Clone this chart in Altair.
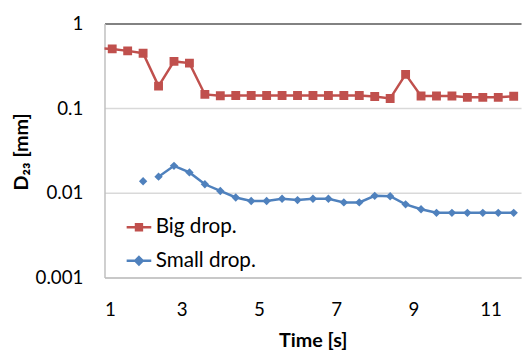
import altair as alt
import pandas as pd

# ---- data ----
big_time = [0.8, 1.2, 1.6, 2.0, 2.4, 2.8, 3.2, 3.6, 4.0, 4.4, 4.8, 5.2, 5.6, 6.0,
            6.4, 6.8, 7.2, 7.6, 8.0, 8.4, 8.8, 9.2, 9.6, 10.0, 10.4, 10.8, 11.2, 11.6]
big_d23 = [0.51, 0.50, 0.474, 0.445, 0.182, 0.356, 0.340, 0.145, 0.140, 0.141, 0.141,
           0.141, 0.141, 0.141, 0.141, 0.141, 0.141, 0.141, 0.137, 0.130, 0.25, 0.139,
           0.139, 0.139, 0.134, 0.134, 0.134, 0.138]

small_time = [2.0, 2.4, 2.8, 3.2, 3.6, 4.0, 4.4, 4.8, 5.2, 5.6, 6.0, 6.4, 6.8,
              7.2, 7.6, 8.0, 8.4, 8.8, 9.2, 9.6, 10.0, 10.4, 10.8, 11.2, 11.6]
small_d23 = [0.0137, 0.0155, 0.0208, 0.0174, 0.0126, 0.0105, 0.0088, 0.0080, 0.0080,
             0.0085, 0.0082, 0.0085, 0.0085, 0.0077, 0.0077, 0.0092, 0.0091, 0.0073,
             0.0064, 0.0058, 0.0058, 0.0058, 0.0058, 0.0058, 0.0058]
# first small-drop point stands alone (not joined to the rest)
small_seg = [0] + [1] * (len(small_time) - 1)

series_names = ["Big drop.", "Small drop."]
series_colors = ["#C0504D", "#4F81BD"]
x_ticks = [1, 3, 5, 7, 9, 11]
y_ticks = [0.001, 0.01, 0.1, 1]

df = pd.concat([
    pd.DataFrame({"t": big_time, "d": big_d23, "s": series_names[0], "seg": 1}),
    pd.DataFrame({"t": small_time, "d": small_d23, "s": series_names[1], "seg": small_seg}),
])

FONT = "Lato"
SQ = "M-1,0H1M-0.24,-0.24H0.24V0.24H-0.24Z"
DI = "M-1,0H1M0,-0.3L0.3,0L0,0.3L-0.3,0Z"

x = alt.X("t:Q", scale=alt.Scale(domain=[1, 11.79], nice=False, zero=False),
          axis=alt.Axis(values=x_ticks, title="Time [s]", grid=False, ticks=False,
                        tickSize=0, labelPadding=24, titlePadding=11,
                        domainColor="#BFBFBF", domainWidth=1.5,
                        labelFont=FONT, labelFontSize=19, labelColor="black",
                        titleFont=FONT, titleFontSize=20, titleFontWeight="bold",
                        titleColor="black"))
y = alt.Y("d:Q", scale=alt.Scale(type="log", domain=[0.001, 1], nice=False),
          axis=alt.Axis(values=y_ticks, format="~g", title="D₂₃ [mm]", ticks=False,
                        tickSize=0, labelPadding=22,
                        grid=True,
                        gridColor={"condition": {"test": "datum.value >= 1", "value": "#595959"},
                                   "value": "#D9D9D9"},
                        gridWidth=1.5,
                        domainColor="#BFBFBF", domainWidth=1.5,
                        labelFont=FONT, labelFontSize=19, labelColor="black",
                        titleFont=FONT, titleFontSize=20, titleFontWeight="bold",
                        titleColor="black", titleX=-84, titleY=130,
                        titleBaseline="middle", titleAngle=-90))

color_scale = alt.Scale(domain=series_names, range=series_colors)
leg = alt.Legend(orient="none", legendX=21, legendY=193, title=None, padding=0,
                 labelFont=FONT, labelFontSize=21, labelColor="black", labelOffset=3,
                 symbolSize=625, symbolStrokeWidth=2.5, rowPadding=10, symbolOpacity=1)
color_enc = alt.Color("s:N", scale=color_scale, legend=leg)

lines = alt.Chart(df).mark_line(strokeWidth=2.5, clip=True).encode(
    x=x, y=y, color=color_enc, detail="seg:N",
)

big_pts = alt.Chart(df).transform_filter(
    alt.datum.s == series_names[0]
).mark_point(filled=True, opacity=1, clip=True, shape="square", size=81).encode(
    x=x, y=y, color=color_enc,
)
small_pts = alt.Chart(df).transform_filter(
    alt.datum.s == series_names[1]
).mark_point(filled=True, opacity=1, clip=True, shape="diamond", size=72).encode(
    x=x, y=y, color=color_enc,
)

legend_layer = alt.Chart(df).transform_filter("false").mark_point(
    filled=True, opacity=1, strokeWidth=2.5).encode(
    x=x, y=y,
    color=color_enc,
    stroke=alt.Stroke("s:N", scale=color_scale, legend=leg),
    shape=alt.Shape("s:N", scale=alt.Scale(domain=series_names, range=[SQ, DI]), legend=leg),
)

chart = alt.layer(lines, big_pts, small_pts, legend_layer).properties(
    width=423, height=258,
    autosize=alt.AutoSizeParams(type="none"),
    padding={"left": 98, "top": 13, "right": 2, "bottom": 71},
    background="white",
).configure_view(stroke=None)

chart.save("out.html", embed_options={"renderer": "svg", "actions": False})
